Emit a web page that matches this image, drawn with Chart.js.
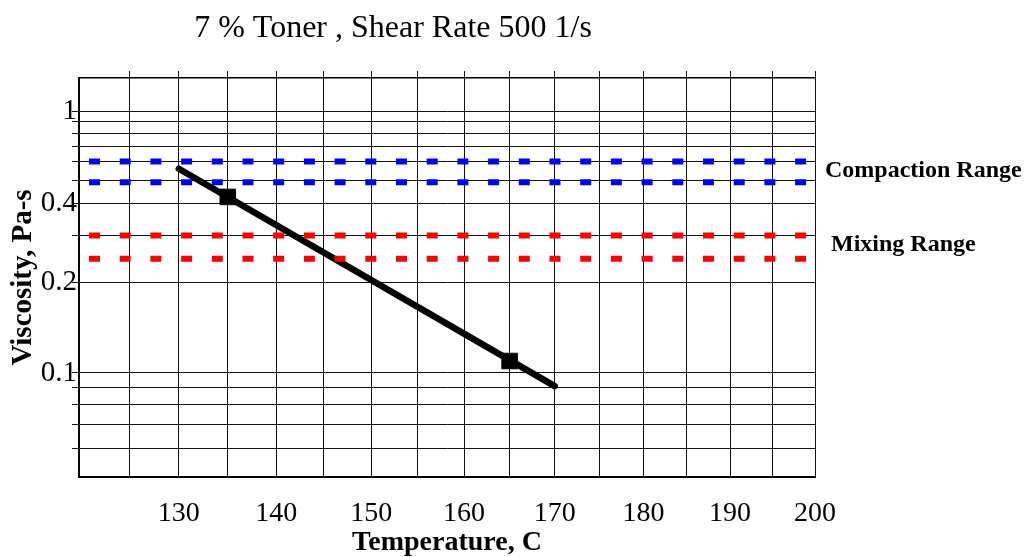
<!DOCTYPE html>
<html>
<head>
<meta charset="utf-8">
<title>Viscosity vs Temperature</title>
<script src="https://cdn.jsdelivr.net/npm/chart.js@4.4.1/dist/chart.umd.min.js"></script>
<style>
    html, body { margin: 0; padding: 0; background: #fff; }
    #wrap { width: 1026px; height: 557px; }
</style>
</head>
<body>
<div id="wrap"><canvas id="viscChart"></canvas></div>
<script>
    // temperatures in C, viscosity in Pa-s
    var gridTemps = [120, 125, 130, 135, 140, 145, 150, 155, 160, 165, 170, 175, 180, 185, 190, 195, 200]
    var labelTemps = [130, 140, 150, 160, 170, 180, 190, 200]
    var viscTicks = [0.06, 0.07, 0.08, 0.09, 0.1, 0.2, 0.3, 0.4, 0.5, 0.6, 0.7, 0.8, 0.9, 1]
    var viscLabels = [0.1, 0.2, 0.4, 1]

    var fitTemps = [130, 170]
    var fitVisc = [0.558, 0.091]
    var measTemps = [135, 165]
    var measVisc = [0.426, 0.109]

    var rangeTemps = [120, 200]
    var compactionHigh = [0.6, 0.6]
    var compactionLow = [0.49, 0.49]
    var mixingHigh = [0.3, 0.3]
    var mixingLow = [0.245, 0.245]

    var tempMin = 120, tempMax = 200
    var viscMin = 0.05, viscMax = 1.45

    var KELVIN = 273.15
    var serif = '"Liberation Serif", "Times New Roman", serif'
    var gridColor = '#111'

    // ASTM D341 style axis: log log (cP + 0.7)
    function walther(v) {
        return Math.log10(Math.log10(1000 * v + 0.7))
    }

    class WaltherScale extends Chart.LinearScale {
        getPixelForValue(value) {
            if (value === null || value === undefined || isNaN(value)) return NaN
            var lo = walther(this.min), hi = walther(this.max)
            return this.getPixelForDecimal((walther(value) - lo) / (hi - lo))
        }
        getValueForPixel(pixel) {
            var lo = walther(this.min), hi = walther(this.max)
            var w = lo + this.getDecimalForPixel(pixel) * (hi - lo)
            return (Math.pow(10, Math.pow(10, w)) - 0.7) / 1000
        }
    }
    WaltherScale.id = 'walther'
    WaltherScale.defaults = {}
    Chart.register(WaltherScale)

    function points(temps, values) {
        return temps.map(function(t, i) { return { x: t + KELVIN, y: values[i] } })
    }

    function rangeLine(values, color) {
        return {
            data: points(rangeTemps, values),
            borderColor: color,
            borderWidth: 6,
            borderDash: [11, 19.7],
            borderDashOffset: 20.7,
            borderCapStyle: 'butt',
            pointRadius: 0,
            order: 1
        }
    }

    function kelvinTicks(scale) {
        scale.ticks = gridTemps.map(function(t) { return { value: t + KELVIN } })
    }

    // title and range captions
    var chartText = {
        id: 'chartText',
        afterDraw: function(chart) {
            var ctx = chart.ctx
            var y = chart.scales.y
            var area = chart.chartArea
            ctx.save()
            ctx.fillStyle = '#000'
            ctx.textBaseline = 'alphabetic'
            ctx.textAlign = 'center'
            ctx.font = '32px ' + serif
            ctx.fillText('7 % Toner , Shear Rate 500 1/s', 393, 37)

            ctx.textAlign = 'left'
            ctx.font = 'bold 24px ' + serif
            var cy = (y.getPixelForValue(compactionHigh[0]) + y.getPixelForValue(compactionLow[0])) / 2
            ctx.fillText('Compaction Range', area.right + 10, cy + 5)
            var my = (y.getPixelForValue(mixingHigh[0]) + y.getPixelForValue(mixingLow[0])) / 2
            ctx.fillText('Mixing Range', area.right + 16, my + 4)
            ctx.restore()
        }
    }

    var ctx = document.getElementById('viscChart').getContext('2d');
    var viscChart = new Chart(ctx, {
        type: 'line',
        data: {
            datasets: [
                rangeLine(compactionHigh, '#0000ff'),
                rangeLine(compactionLow, '#0000ff'),
                rangeLine(mixingHigh, '#ff0000'),
                rangeLine(mixingLow, '#ff0000'),
                {
                    data: points(fitTemps, fitVisc),
                    borderColor: '#000',
                    borderWidth: 6.5,
                    borderCapStyle: 'round',
                    pointRadius: 0,
                    order: 2
                },
                {
                    data: points(measTemps, measVisc),
                    showLine: false,
                    pointStyle: 'rect',
                    pointRadius: 11,
                    pointBackgroundColor: '#000',
                    pointBorderColor: '#000',
                    pointBorderWidth: 1,
                    order: 2
                }
            ]
        },
        options: {
            responsive: true,
            maintainAspectRatio: false,
            animation: false,
            layout: { padding: { right: 211 } },
            plugins: {
                legend: { display: false },
                tooltip: { enabled: false }
            },
            scales: {
                x: {
                    type: 'logarithmic',
                    position: 'bottom',
                    min: tempMin + KELVIN,
                    max: tempMax + KELVIN,
                    bounds: 'data',
                    afterBuildTicks: kelvinTicks,
                    afterFit: function(scale) { scale.height = 80 },
                    grid: { color: gridColor, lineWidth: 1, drawTicks: false },
                    border: { color: '#000', width: 2 },
                    ticks: {
                        autoSkip: false,
                        maxRotation: 0,
                        padding: 20,
                        color: '#000',
                        font: { family: serif, size: 28 },
                        callback: function(value) {
                            var t = Math.round(value - KELVIN)
                            return labelTemps.indexOf(t) >= 0 ? String(t) : ''
                        }
                    },
                    title: {
                        display: true,
                        text: 'Temperature, C',
                        color: '#000',
                        font: { family: serif, size: 28, weight: 'bold' },
                        padding: -3
                    }
                },
                x2: {
                    type: 'logarithmic',
                    position: 'top',
                    min: tempMin + KELVIN,
                    max: tempMax + KELVIN,
                    bounds: 'data',
                    afterBuildTicks: kelvinTicks,
                    afterFit: function(scale) { scale.height = 78 },
                    grid: {
                        drawOnChartArea: false,
                        tickLength: 7,
                        color: gridColor,
                        tickColor: function(c) { return c.index === 0 ? 'rgba(0,0,0,0)' : gridColor }
                    },
                    border: { color: '#000', width: 1.5 },
                    ticks: { display: false, autoSkip: false }
                },
                y: {
                    type: 'walther',
                    position: 'left',
                    min: viscMin,
                    max: viscMax,
                    bounds: 'data',
                    afterBuildTicks: function(scale) {
                        scale.ticks = viscTicks.map(function(v) { return { value: v } })
                    },
                    afterFit: function(scale) { scale.width = 79 },
                    grid: { color: gridColor, lineWidth: 1, tickLength: 7 },
                    border: { color: '#000', width: 1.5 },
                    ticks: {
                        autoSkip: false,
                        padding: -5,
                        color: '#000',
                        font: { family: serif, size: 29 },
                        callback: function(value) {
                            return viscLabels.indexOf(value) >= 0 ? String(value) : ''
                        }
                    },
                    title: {
                        display: true,
                        text: 'Viscosity, Pa-s',
                        color: '#000',
                        font: { family: serif, size: 29, weight: 'bold' },
                        padding: { top: 6, bottom: 0 }
                    }
                }
            }
        },
        plugins: [chartText]
    });
</script>
</body>
</html>
